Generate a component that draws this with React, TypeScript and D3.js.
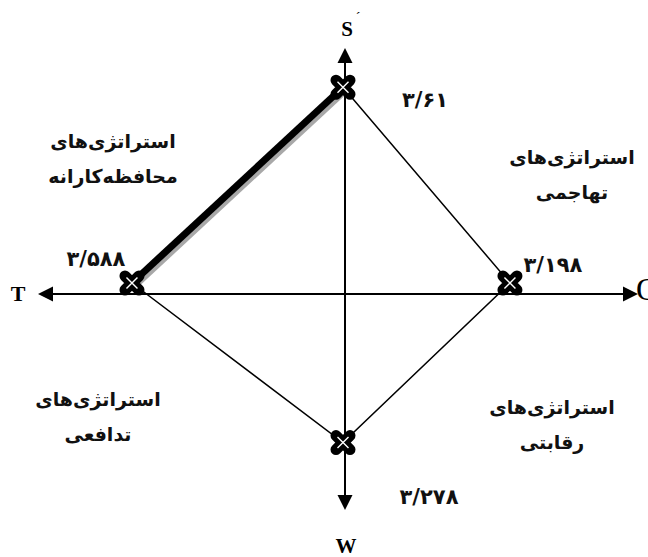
import React from "react";
import * as d3 from "d3";

// SWOT strategy diamond (schematic)
const directions = ["S", "O", "W", "T"];
const values = [3.61, 3.198, 3.278, 3.588];
const valueLabels = ["۳/۶۱", "۳/۱۹۸", "۳/۲۷۸", "۳/۵۸۸"];
const quadrantTitles = ["استراتژی‌های", "استراتژی‌های", "استراتژی‌های", "استراتژی‌های"];
const quadrantNames = ["محافظه‌کارانه", "تهاجمی", "تدافعی", "رقابتی"];

const W = 648;
const H = 557;
const cx = 345;
const cy = 294;

// horizontal and vertical arms are drawn with their own scales
const rX = d3.scaleLinear().domain([1.86, 3.6]).range([0, 214.5]);
const rY = d3.scaleLinear().domain([2.43, 3.6]).range([0, 205]);

const unit: Record<string, [number, number]> = {
  S: [0, -1],
  O: [1, 0],
  W: [0, 1],
  T: [-1, 0],
};

const persianFont = "'DejaVu Sans', sans-serif";
const latinFont = "'Liberation Serif', 'Times New Roman', serif";

function Cross({ x, y }: { x: number; y: number }) {
  const a = 7;
  const b = 5.5;
  return (
    <g transform={`translate(${x},${y})`}>
      <path d={`M${-a},${-a}L${a},${a}M${-a},${a}L${a},${-a}`} stroke="#000" strokeWidth={11} strokeLinecap="round" fill="none" />
      <path d={`M${-b},${-b}L${b},${b}M${-b},${b}L${b},${-b}`} stroke="#fff" strokeWidth={1.4} fill="none" />
    </g>
  );
}

export default function App() {
  const pts = directions.map((d, i) => {
    const [ux, uy] = unit[d];
    const r = ux !== 0 ? rX(values[i]) : rY(values[i]);
    // markers on the horizontal axis sit slightly above it
    const lift = ux !== 0 ? -11 : 0;
    return { key: d, x: cx + ux * r - (ux === 0 ? 2 : 0), y: cy + uy * r + lift, label: valueLabels[i] };
  });
  const byKey = Object.fromEntries(pts.map((p) => [p.key, p]));
  const line = d3.line<{ x: number; y: number }>().x((p) => p.x).y((p) => p.y);

  const labelOffset: Record<string, [number, number]> = {
    S: [82, 20],
    O: [43, -11],
    W: [86, 61],
    T: [-36, -17],
  };

  const quadPos = [
    [113, 148],
    [572, 164],
    [98, 406],
    [552, 414],
  ];

  const arrow = (tx: number, ty: number, dx: number, dy: number) => {
    // tip at (tx,ty), pointing along (dx,dy)
    const len = 15;
    const half = 7.5;
    const bx = tx - dx * len;
    const by = ty - dy * len;
    return `M${tx},${ty}L${bx - dy * half},${by + dx * half}L${bx + dy * half},${by - dx * half}Z`;
  };

  return (
    <svg width={W} height={H} style={{ position: "absolute", left: 0, top: 0, background: "#fff" }}>
      {/* axes */}
      <line x1={40} y1={cy} x2={630} y2={cy} stroke="#000" strokeWidth={2} />
      <line x1={cx} y1={55} x2={cx} y2={503} stroke="#000" strokeWidth={2} />
      <path d={arrow(638, cy, 1, 0)} fill="#000" />
      <path d={arrow(38, cy, -1, 0)} fill="#000" />
      <path d={arrow(cx, 48, 0, -1)} fill="#000" />
      <path d={arrow(cx, 510, 0, 1)} fill="#000" />

      {/* diamond */}
      <path d={line([byKey.S, byKey.O, byKey.W, byKey.T])!} stroke="#000" strokeWidth={1.5} fill="none" />
      <path
        d={line([byKey.T, byKey.S])!}
        transform="translate(3,3)"
        stroke="#a8a8a8"
        strokeWidth={6}
        fill="none"
      />
      <path d={line([byKey.T, byKey.S])!} stroke="#000" strokeWidth={7} fill="none" />

      {pts.map((p) => (
        <Cross key={p.key} x={p.x} y={p.y} />
      ))}

      {/* value labels */}
      {pts.map((p) => (
        <text
          key={"v" + p.key}
          x={p.x + labelOffset[p.key][0]}
          y={p.y + labelOffset[p.key][1]}
          textAnchor="middle"
          fontFamily={persianFont}
          fontWeight="bold"
          fontSize={21}
          fill="#111"
        >
          {p.label}
        </text>
      ))}

      {/* axis letters */}
      <text x={347} y={36} textAnchor="middle" fontFamily={latinFont} fontWeight="bold" fontSize={21}>S</text>
      <text x={358} y={22} textAnchor="middle" fontFamily={latinFont} fontSize={14}>´</text>
      <text x={18} y={301} textAnchor="middle" fontFamily={latinFont} fontWeight="bold" fontSize={22}>T</text>
      <text x={636} y={300} fontFamily={latinFont} fontSize={32}>O</text>
      <text x={346} y={553} textAnchor="middle" fontFamily={latinFont} fontWeight="bold" fontSize={21}>W</text>

      {/* quadrant labels */}
      {quadrantTitles.map((t, i) => (
        <g key={"q" + i} fontFamily={persianFont} fontWeight="bold" fontSize={19} fill="#111">
          <text x={quadPos[i][0]} y={quadPos[i][1]} textAnchor="middle" direction="rtl">
            {t}
          </text>
          <text x={quadPos[i][0]} y={quadPos[i][1] + 35} textAnchor="middle" direction="rtl">
            {quadrantNames[i]}
          </text>
        </g>
      ))}
    </svg>
  );
}
